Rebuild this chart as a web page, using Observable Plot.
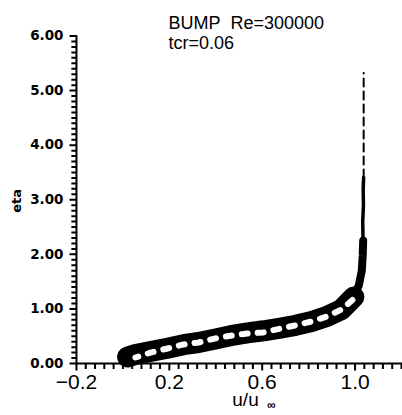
<!DOCTYPE html>
<html><head><meta charset="utf-8">
<script src="https://cdn.jsdelivr.net/npm/d3@7"></script>
<script src="https://cdn.jsdelivr.net/npm/@observablehq/plot@0.6"></script>
<style>body{margin:0;background:#fff} svg{display:block}</style>
</head><body><div id="chart"></div>
<script>
// Title / labels
const titleLines = ["BUMP\u00a0\u00a0Re=300000", "tcr=0.06"];
const xLabel = "u/u";
const xLabelSub = "\u221e";
const yLabel = "eta";

// Tick values
const xTicks = [-0.2, 0.2, 0.6, 1.0];
const xMinorTicks = d3.range(0, 36).map(i => -0.2 + i * 0.04);
const yTicks = [0, 1, 2, 3, 4, 5, 6];
const yMinorTicks = d3.range(0, 61).map(i => i / 10);

// Thick profile band
const uBand   = [0.020, 0.054, 0.119, 0.192, 0.261, 0.326, 0.399, 0.464, 0.537, 0.606, 0.679, 0.744, 0.813, 0.878, 0.942, 0.995];
const etaBand = [0.120, 0.165, 0.220, 0.280, 0.345, 0.385, 0.450, 0.510, 0.560, 0.600, 0.650, 0.700, 0.770, 0.860, 0.990, 1.220];
// Neck where the band turns vertical
const uNeck   = [0.950, 0.990, 1.016, 1.029, 1.033, 1.035];
const etaNeck = [1.05, 1.20, 1.43, 1.70, 1.98, 2.25];
// Thin solid part of the outer profile
const uThin   = [1.035, 1.033, 1.036, 1.035, 1.037];
const etaThin = [2.10, 2.60, 2.90, 3.20, 3.41];
// Thin dashed part
const uDash   = [1.037, 1.037];
const etaDash = [3.41, 5.32];
// White dashed line inside the band
const uWhite   = [0.054, 0.119, 0.192, 0.261, 0.326, 0.399, 0.464, 0.537, 0.606, 0.679, 0.744, 0.813, 0.878, 0.942, 0.990];
const etaWhite = [0.110, 0.200, 0.275, 0.350, 0.385, 0.460, 0.510, 0.550, 0.570, 0.640, 0.700, 0.770, 0.860, 0.990, 1.170];

const rows = (us, es) => us.map((u, i) => ({u, eta: es[i]}));
const isMajor = (arr, v) => arr.some(t => Math.abs(t - v) < 1e-9);

// Axes drawn as single comb-shaped paths (axis line with tick teeth)
const xComb = xMinorTicks.flatMap(t => {
  const len = isMajor(xTicks, t) ? 0.13 : 0.1;
  return [{u: t, eta: 0}, {u: t, eta: -len}, {u: t, eta: 0}];
}).concat([{u: 1.2, eta: 0}]);
const yComb = yMinorTicks.flatMap(t => {
  const len = isMajor(yTicks, t) ? 0.03 : 0.022;
  return [{u: -0.2, eta: t}, {u: -0.2 - len, eta: t}, {u: -0.2, eta: t}];
});

const plot = Plot.plot({
  width: 402, height: 415,
  marginLeft: 69, marginRight: 1, marginTop: 35.5, marginBottom: 43.8,
  x: {domain: [-0.23, 1.2]},
  y: {domain: [-0.15, 6]},
  style: {fontFamily: "'Liberation Sans', Arial, sans-serif", color: "#000", background: "#fff"},
  marks: [
    // tick labels
    Plot.axisX(xTicks, {tickSize: 0, tickPadding: 2, tickFormat: d3.format(".1f"), fontSize: 21, label: null}),
    Plot.axisY(yTicks, {tickSize: 0, tickPadding: 6, tickFormat: d3.format(".2f"), fontSize: 13.5, fontWeight: "bold", fontFamily: "'DejaVu Sans', sans-serif", label: null}),
    // axis combs (axis line + ticks in one path)
    Plot.line(xComb, {x: "u", y: "eta", stroke: "black", strokeWidth: 2, strokeLinejoin: "miter", strokeMiterlimit: 1}),
    Plot.line(yComb, {x: "u", y: "eta", stroke: "black", strokeWidth: 2, strokeLinejoin: "miter", strokeMiterlimit: 1}),
    // profiles
    Plot.line(rows(uBand, etaBand), {x: "u", y: "eta", stroke: "black", strokeWidth: 21, strokeLinecap: "round", strokeLinejoin: "round"}),
    Plot.line(rows(uNeck, etaNeck), {x: "u", y: "eta", stroke: "black", strokeWidth: 8, strokeLinecap: "round", strokeLinejoin: "round"}),
    Plot.line(rows(uThin, etaThin), {x: "u", y: "eta", stroke: "black", strokeWidth: 3.5}),
    Plot.line(rows(uDash, etaDash), {x: "u", y: "eta", stroke: "black", strokeWidth: 2, strokeDasharray: "8,5"}),
    Plot.line(rows(uWhite, etaWhite), {x: "u", y: "eta", stroke: "white", strokeWidth: 6, strokeDasharray: "6,10", strokeDashoffset: 3}),
    // titles and labels
    Plot.text([titleLines[0]], {text: d => d, frameAnchor: "top-left", dx: 99, dy: -7.5, textAnchor: "start", lineAnchor: "bottom", fontSize: 18, ariaLabel: "title1"}),
    Plot.text([titleLines[1]], {text: d => d, frameAnchor: "top-left", dx: 99, dy: 12.5, textAnchor: "start", lineAnchor: "bottom", fontSize: 18, ariaLabel: "title2"}),
    Plot.text([xLabel], {text: d => d, frameAnchor: "bottom", dx: 10, dy: 34, textAnchor: "middle", lineAnchor: "bottom", fontSize: 19}),
    Plot.text([xLabelSub], {text: d => d, frameAnchor: "bottom", dx: 36, dy: 37, textAnchor: "middle", lineAnchor: "bottom", fontSize: 12, fontWeight: "bold"}),
    Plot.text([yLabel], {text: d => d, frameAnchor: "left", dx: -53, dy: -3, rotate: -90, textAnchor: "middle", lineAnchor: "middle", fontSize: 13, fontWeight: "bold", fontFamily: "'DejaVu Sans', sans-serif"})
  ]
});
const svg = d3.select(plot);
svg.selectAll('g[aria-label="title1"] text').attr("textLength", 187).attr("lengthAdjust", "spacingAndGlyphs");
svg.selectAll('g[aria-label="title2"] text').attr("textLength", 89).attr("lengthAdjust", "spacingAndGlyphs");
document.getElementById("chart").appendChild(plot);
</script>
</body></html>
